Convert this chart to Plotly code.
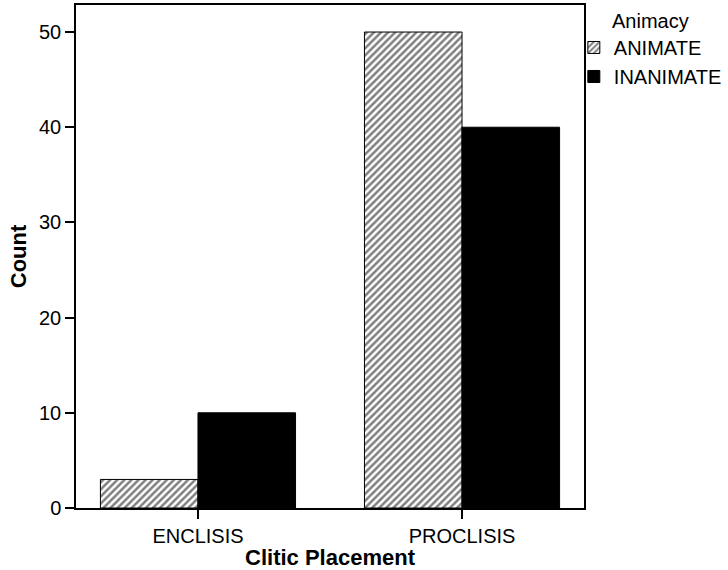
import plotly.graph_objects as go

categories = ["ENCLISIS", "PROCLISIS"]
animate = [3, 50]
inanimate = [10, 40]
series_names = ["ANIMATE", "INANIMATE"]
y_ticks = [0, 10, 20, 30, 40, 50]

fig = go.Figure()
fig.add_trace(go.Bar(
    x=categories, y=animate, name=series_names[0],
    marker=dict(color="white", line=dict(color="black", width=1),
                pattern=dict(shape="/", fgcolor="black", bgcolor="white", size=5, solidity=0.5)),
))
fig.add_trace(go.Bar(
    x=categories, y=inanimate, name=series_names[1],
    marker=dict(color="black", line=dict(color="black", width=1)),
))

font_family = "Liberation Sans, Arial, Helvetica, sans-serif"
fig.update_layout(
    width=728, height=570,
    margin=dict(l=76, r=144, t=5, b=62, autoexpand=False),
    paper_bgcolor="white", plot_bgcolor="white",
    barmode="group", bargap=0.261, bargroupgap=0,
    font=dict(family=font_family, size=20, color="black"),
    legend=dict(
        title=dict(text="Animacy", font=dict(size=20), side="top center"),
        x=0.980, xanchor="left", y=1.006, yanchor="top",
        font=dict(size=20), bgcolor="rgba(0,0,0,0)",
        itemwidth=30, tracegroupgap=0, borderwidth=0,
    ),
    xaxis=dict(
        title=dict(text="<b>Clitic Placement</b>", font=dict(size=22), standoff=2),
        range=[-0.462, 1.462], showline=True, linecolor="black", linewidth=1.5,
        mirror=True, ticks="outside", ticklen=9, tickcolor="black", tickwidth=1.5,
        showgrid=False, zeroline=False,
    ),
    yaxis=dict(
        title=dict(text="<b>Count</b>", font=dict(size=22), standoff=6),
        range=[0, 52.84], tickvals=y_ticks,
        showline=True, linecolor="black", linewidth=1.5, mirror=True,
        ticks="outside", ticklen=9, tickcolor="black", tickwidth=1.5,
        showgrid=False, zeroline=False,
    ),
)

fig.write_html("out.html", config={"displayModeBar": False},
               post_script="document.body.style.margin='0';")
